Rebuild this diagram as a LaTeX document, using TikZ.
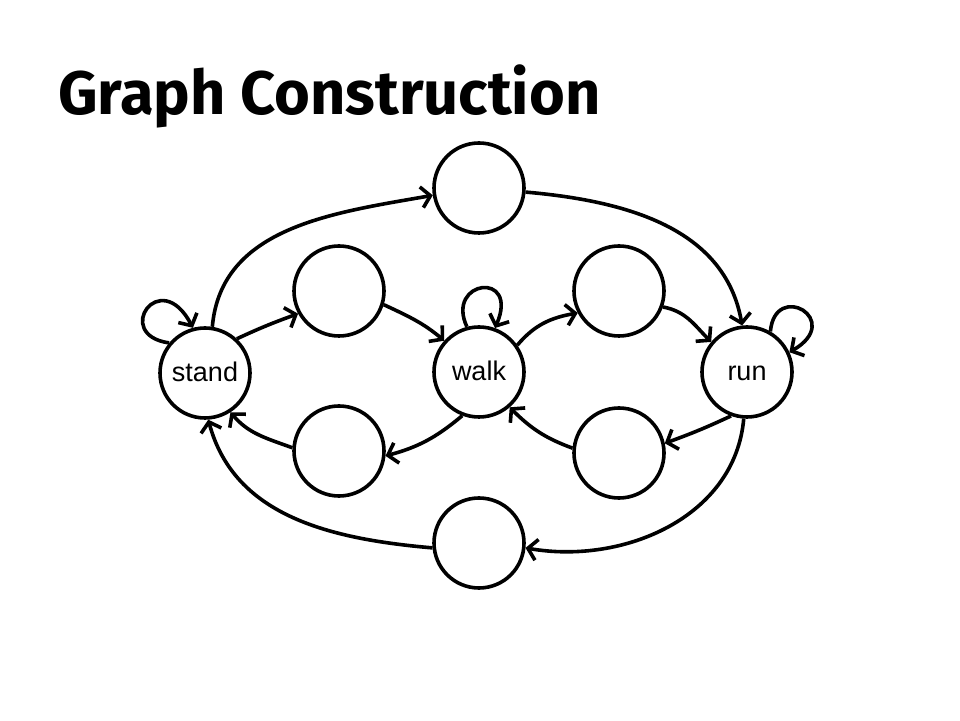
\documentclass[tikz,border=0pt]{standalone}
\usepackage{fontspec}
\usetikzlibrary{arrows.meta}
\newfontfamily\titlefont{Fira Sans}
\newfontfamily\labfont{Liberation Sans}
\begin{document}
\begin{tikzpicture}[x=1pt,y=1pt,
  stnode/.style={circle,draw=black,line width=3.6pt,minimum size=90pt,inner sep=0pt,
    text height=17pt,text depth=0pt,
    font=\labfont\fontsize{27}{27}\selectfont,text=black},
  edge/.style={line width=3.6pt,-{Straight Barb[length=9pt,width=21pt]}},
  loopedge/.style={line width=3.6pt,-{Straight Barb[length=9pt,width=21pt]}}]
\useasboundingbox (0,0) rectangle (960,720);
\node[anchor=base west,inner sep=0pt] (title) at (58,605)
  {\resizebox{542pt}{!}{\titlefont\bfseries Graph Construction}};
\node[stnode] (top) at (479,532) {};
\node[stnode] (ul) at (339,429) {};
\node[stnode] (ur) at (619,429) {};
\node[stnode] (stand) at (205,347) {stand};
\node[stnode] (walk) at (479,348) {walk};
\node[stnode] (run) at (747,348) {run};
\node[stnode] (ll) at (339,269) {};
\node[stnode] (lr) at (619,267) {};
\node[stnode] (bot) at (479,177) {};
% outer arcs
\draw[edge] (stand.81) to[out=85,in=190] (top.189);
\draw[edge] (top.-5) to[out=-5,in=100] (run.96);
\draw[edge] (run.266) to[out=-95,in=-10] (bot.-6);
\draw[edge] (bot.186) to[out=175,in=-75] (stand.274);
% inner
\draw[edge] (stand.47) to[out=25,in=200] (ul.209);
\draw[edge] (ul.-17) to[out=-25,in=140] (walk.138);
\draw[edge] (walk.35) to[out=50,in=190] (ur.208);
\draw[edge] (ur.-20) to[out=-10,in=135] (run.140);
\draw[edge] (run.250) to[out=205,in=20] (lr.12);
\draw[edge] (lr.174) to[out=160,in=-45] (walk.-49);
\draw[edge] (walk.249) to[out=220,in=15] (ll.-6);
\draw[edge] (ll.176) to[out=160,in=-50] (stand.-57);
% loops
\draw[loopedge] (stand.140) .. controls (112,385) and (160,455) .. (stand.105);
\draw[loopedge] (walk.105) .. controls (445,440) and (520,450) .. (walk.70);
\draw[loopedge] (run.60) .. controls (775,440) and (845,400) .. (run.25);
\end{tikzpicture}
\end{document}
